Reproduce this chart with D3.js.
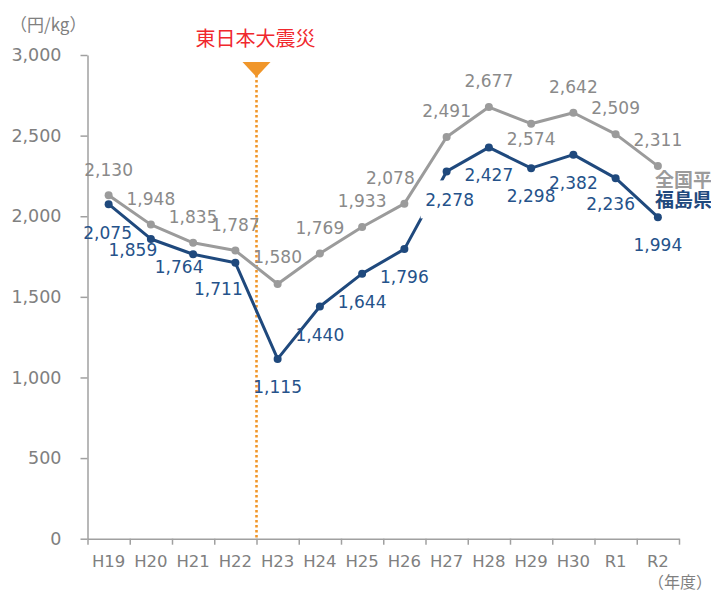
<!DOCTYPE html>
<html>
<head>
<meta charset="utf-8">
<script src="https://cdn.jsdelivr.net/npm/d3@7"></script>
<style>
  html, body { margin: 0; padding: 0; background: #fff; }
  svg { display: block; }
  text { font-family: "DejaVu Sans", Verdana, sans-serif; }
  .jp { font-family: "Noto Sans CJK JP", "DejaVu Sans", sans-serif; }
</style>
</head>
<body>
<svg id="chart" width="711" height="592"></svg>
<script>
// Fiscal years (Heisei / Reiwa)
const years = ["H19","H20","H21","H22","H23","H24","H25","H26","H27","H28","H29","H30","R1","R2"];
// Rice price, yen per kg
const nationalAvg = [2130,1948,1835,1787,1580,1769,1933,2078,2491,2677,2574,2642,2509,2311];
const fukushima   = [2075,1859,1764,1711,1115,1440,1644,1796,2278,2427,2298,2382,2236,1994];
const yTicks = [0,500,1000,1500,2000,2500,3000];
const seriesNames = ["全国平均","福島県"];
const eventLabel = "東日本大震災";
const eventYear = "H23";

const GRAY = "#9b9b9b", GRAY_TXT = "#8a8a8a";
const BLUE = "#1f497d", BLUE_TXT = "#25528a";
const AXIS = "#a0a0a0", AXIS_TXT = "#808080";
const ORANGE = "#f0962a", RED = "#f0282d";

const svg = d3.select("#chart");
const x = d3.scaleBand().domain(years).range([87.5, 679]).padding(0);
const y = d3.scaleLinear().domain([0, 3000]).range([538.7, 55]);
const cx = d => x(d) + x.bandwidth() / 2;

// Y axis
const yAxis = svg.append("g").attr("transform", "translate(87.5,0)")
  .call(d3.axisLeft(y).tickValues(yTicks).tickFormat(d3.format(",")).tickSize(7).tickSizeOuter(0).tickPadding(19));
yAxis.select(".domain").attr("stroke", AXIS).attr("stroke-width", 1.5);
yAxis.selectAll(".tick line").attr("stroke", AXIS).attr("stroke-width", 1.5);
yAxis.selectAll(".tick text").attr("fill", AXIS_TXT).style("font-size", "17.5px")
  .style("font-family", "'DejaVu Sans', Verdana, sans-serif");

// X axis: labels centred in each band, tick marks on band edges
const edge = d3.scaleLinear().domain([0, years.length]).range([87.5, 679]);
const xEdge = svg.append("g").attr("transform", "translate(0,538.7)")
  .call(d3.axisBottom(edge).ticks(years.length).tickValues(d3.range(years.length + 1)).tickFormat("").tickSize(6).tickSizeOuter(0));
xEdge.select(".domain").attr("stroke", AXIS).attr("stroke-width", 1.5);
xEdge.selectAll(".tick line").attr("stroke", AXIS).attr("stroke-width", 1.5);

const xAxis = svg.append("g").attr("transform", "translate(0,538.7)")
  .call(d3.axisBottom(x).tickSize(0).tickPadding(17));
xAxis.select(".domain").remove();
xAxis.selectAll(".tick text").attr("fill", AXIS_TXT).style("font-size", "16.5px")
  .style("font-family", "'DejaVu Sans', Verdana, sans-serif");

// Unit labels
svg.append("text").attr("class", "jp").attr("x", 10).attr("y", 31)
  .attr("fill", AXIS_TXT).style("font-size", "17px").text("（円/kg）");
svg.append("text").attr("class", "jp").attr("x", 648).attr("y", 588)
  .attr("fill", AXIS_TXT).style("font-size", "16px").text("（年度）");

// Earthquake marker
const ex = x(eventYear);
svg.append("line").attr("x1", ex).attr("x2", ex).attr("y1", 75).attr("y2", y(0))
  .attr("stroke", ORANGE).attr("stroke-width", 2.6).attr("stroke-dasharray", "2.5,2.5");
svg.append("path").attr("d", `M${ex - 14},62 L${ex + 14},62 L${ex},77 Z`).attr("fill", ORANGE);
svg.append("text").attr("class", "jp").attr("x", ex - 1).attr("y", 46).attr("text-anchor", "middle")
  .attr("fill", RED).style("font-size", "20px").text(eventLabel);

const line = d3.line().x((d, i) => cx(years[i])).y(d => y(d));

// Fukushima line
svg.append("path").datum(fukushima).attr("d", line).attr("fill", "none")
  .attr("stroke", BLUE).attr("stroke-width", 3).attr("stroke-linejoin", "round");

// label offsets (dx, dy of label centre from point)
const blueOff = fukushima.map(() => [0, 28]);
blueOff[0] = [-1, 29]; blueOff[1] = [-18, 11]; blueOff[2] = [-14, 13]; blueOff[3] = [-17, 26];
blueOff[8] = [3, 28]; blueOff[9] = [0, 27]; blueOff[12] = [-5, 26];
const grayOff = nationalAvg.map(() => [0, -26]);
grayOff[0] = [0, -25]; grayOff[4] = [0, -27]; grayOff[7] = [-14, -26]; grayOff[10] = [0, 15];

// white box behind the H27 Fukushima label
const boxIdx = 8;
const bx = cx(years[boxIdx]) + blueOff[boxIdx][0], by = y(fukushima[boxIdx]) + blueOff[boxIdx][1];
svg.append("rect").attr("x", bx - 29).attr("y", by - 19).attr("width", 58).attr("height", 38).attr("fill", "#fff");

svg.append("g").selectAll("circle").data(fukushima).join("circle")
  .attr("cx", (d, i) => cx(years[i])).attr("cy", d => y(d)).attr("r", 4).attr("fill", BLUE);

// National average line
svg.append("path").datum(nationalAvg).attr("d", line).attr("fill", "none")
  .attr("stroke", GRAY).attr("stroke-width", 3).attr("stroke-linejoin", "round");
svg.append("g").selectAll("circle").data(nationalAvg).join("circle")
  .attr("cx", (d, i) => cx(years[i])).attr("cy", d => y(d)).attr("r", 4).attr("fill", GRAY);

const fmt = d3.format(",");
svg.append("g").selectAll("text").data(nationalAvg).join("text")
  .attr("x", (d, i) => cx(years[i]) + grayOff[i][0])
  .attr("y", (d, i) => y(d) + grayOff[i][1])
  .attr("dy", "0.36em").attr("text-anchor", "middle")
  .attr("fill", GRAY_TXT).style("font-size", "17px").text(fmt);
svg.append("g").selectAll("text").data(fukushima).join("text")
  .attr("x", (d, i) => cx(years[i]) + blueOff[i][0])
  .attr("y", (d, i) => y(d) + blueOff[i][1])
  .attr("dy", "0.36em").attr("text-anchor", "middle")
  .attr("fill", BLUE_TXT).style("font-size", "17px").text(fmt);

// Series names at line ends
svg.append("text").attr("class", "jp").attr("x", 655).attr("y", 187)
  .attr("fill", GRAY).style("font-size", "19px").style("font-weight", "bold").text(seriesNames[0]);
svg.append("text").attr("class", "jp").attr("x", 655).attr("y", 207)
  .attr("fill", BLUE).style("font-size", "19px").style("font-weight", "bold").text(seriesNames[1]);
</script>
</body>
</html>
